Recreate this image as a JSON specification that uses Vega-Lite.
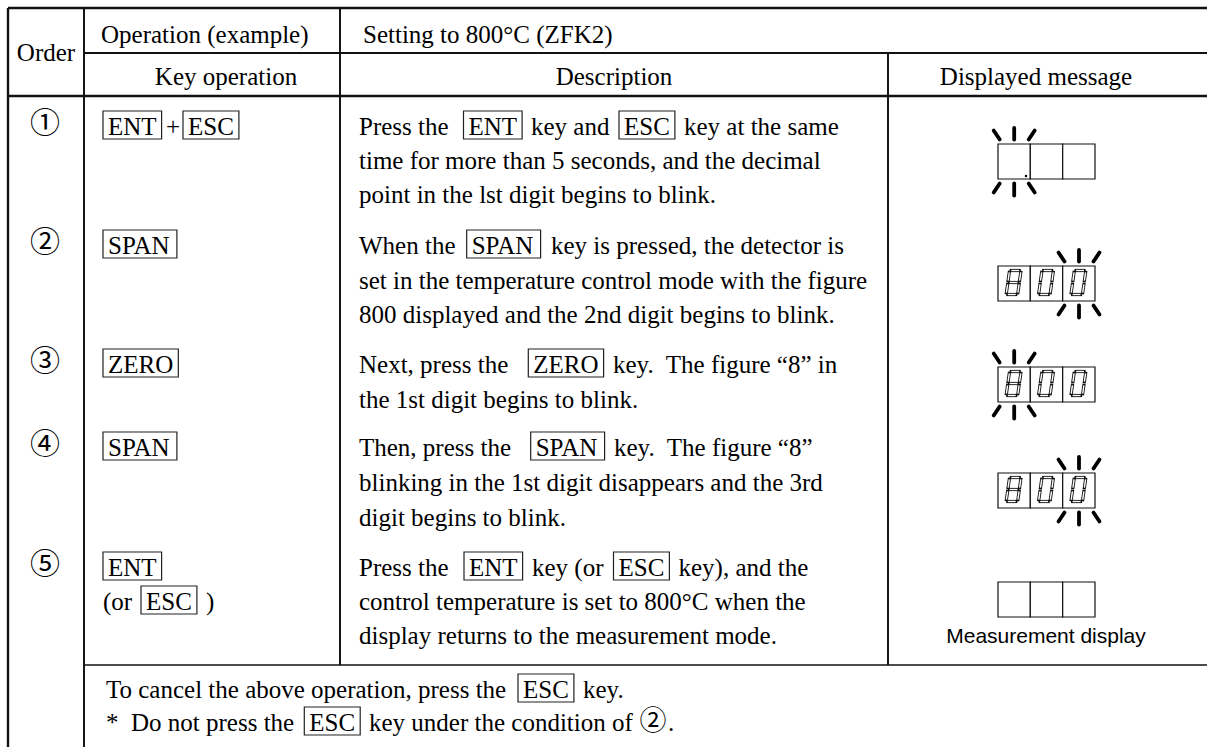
{
  "$schema": "https://vega.github.io/schema/vega-lite/v6.json",
  "width": 1207,
  "height": 747,
  "padding": 0,
  "autosize": {"type": "none"},
  "background": "white",
  "config": {"view": {"stroke": null}},
  "datasets": {
    "lines": [
      {"x": 8, "y": 8, "x2": 1207, "y2": 8, "w": "heavy"},
      {"x": 8, "y": 96, "x2": 1207, "y2": 96, "w": "heavy"},
      {"x": 8, "y": 8, "x2": 8, "y2": 747, "w": "heavy"},
      {"x": 84, "y": 8, "x2": 84, "y2": 747, "w": "medium"},
      {"x": 340, "y": 8, "x2": 340, "y2": 665, "w": "medium"},
      {"x": 888, "y": 53, "x2": 888, "y2": 665, "w": "medium"},
      {"x": 84, "y": 53, "x2": 1207, "y2": 53, "w": "medium"},
      {"x": 84, "y": 665, "x2": 1207, "y2": 665, "w": "light"}
    ],
    "texts": [
      {"kind": "body", "x": 101, "y": 43, "t": "Operation (example)"},
      {"kind": "body", "x": 363, "y": 43, "t": "Setting to 800°C (ZFK2)"},
      {"kind": "center", "x": 46, "y": 61, "t": "Order"},
      {"kind": "center", "x": 226, "y": 85, "t": "Key operation"},
      {"kind": "center", "x": 614, "y": 85, "t": "Description"},
      {"kind": "center", "x": 1036, "y": 85, "t": "Displayed message"},
      {"kind": "num", "x": 45, "y": 124, "t": "①"},
      {"kind": "num", "x": 45, "y": 243, "t": "②"},
      {"kind": "num", "x": 45, "y": 362, "t": "③"},
      {"kind": "num", "x": 45, "y": 445, "t": "④"},
      {"kind": "num", "x": 45, "y": 565, "t": "⑤"},
      {"kind": "body", "x": 166, "y": 135, "t": "+"},
      {"kind": "body", "x": 359, "y": 135, "t": "Press the"},
      {"kind": "body", "x": 531, "y": 135, "t": "key and"},
      {"kind": "body", "x": 684, "y": 135, "t": "key at the same"},
      {"kind": "body", "x": 359, "y": 169, "t": "time for more than 5 seconds, and the decimal"},
      {"kind": "body", "x": 359, "y": 203, "t": "point in the lst digit begins to blink."},
      {"kind": "body", "x": 359, "y": 254, "t": "When the"},
      {"kind": "body", "x": 551, "y": 254, "t": "key is pressed, the detector is"},
      {"kind": "body", "x": 359, "y": 289, "t": "set in the temperature control mode with the figure"},
      {"kind": "body", "x": 359, "y": 323, "t": "800 displayed and the 2nd digit begins to blink."},
      {"kind": "body", "x": 359, "y": 373, "t": "Next, press the"},
      {"kind": "body", "x": 613, "y": 373, "t": "key.\u00a0 The figure “8” in"},
      {"kind": "body", "x": 359, "y": 408, "t": "the 1st digit begins to blink."},
      {"kind": "body", "x": 359, "y": 456, "t": "Then, press the"},
      {"kind": "body", "x": 614, "y": 456, "t": "key.\u00a0 The figure “8”"},
      {"kind": "body", "x": 359, "y": 491, "t": "blinking in the 1st digit disappears and the 3rd"},
      {"kind": "body", "x": 359, "y": 526, "t": "digit begins to blink."},
      {"kind": "body", "x": 359, "y": 576, "t": "Press the"},
      {"kind": "body", "x": 532, "y": 576, "t": "key (or"},
      {"kind": "body", "x": 678.5, "y": 576, "t": "key), and the"},
      {"kind": "body", "x": 359, "y": 610, "t": "control temperature is set to 800°C when the"},
      {"kind": "body", "x": 359, "y": 644, "t": "display returns to the measurement mode."},
      {"kind": "body", "x": 103, "y": 610, "t": "(or"},
      {"kind": "body", "x": 206, "y": 610, "t": ")"},
      {"kind": "body", "x": 106, "y": 698, "t": "To cancel the above operation, press the"},
      {"kind": "body", "x": 583, "y": 698, "t": "key."},
      {"kind": "body", "x": 106, "y": 731, "t": "*\u00a0 Do not press the"},
      {"kind": "body", "x": 369, "y": 731, "t": "key under the condition of"},
      {"kind": "foot", "x": 653, "y": 722, "t": "②"},
      {"kind": "body", "x": 668, "y": 731, "t": "."},
      {"kind": "cap", "x": 1046, "y": 643, "t": "Measurement display"}
    ],
    "keys": [
      {"x": 103, "x2": 161.6, "y": 135, "t": "ENT"},
      {"x": 183, "x2": 238.9, "y": 135, "t": "ESC"},
      {"x": 463.5, "x2": 522.1, "y": 135, "t": "ENT"},
      {"x": 619, "x2": 674.9, "y": 135, "t": "ESC"},
      {"x": 103, "x2": 176.9, "y": 254, "t": "SPAN"},
      {"x": 466.7, "x2": 540.6, "y": 254, "t": "SPAN"},
      {"x": 103, "x2": 178.3, "y": 373, "t": "ZERO"},
      {"x": 528.3, "x2": 603.6, "y": 373, "t": "ZERO"},
      {"x": 103, "x2": 176.9, "y": 456, "t": "SPAN"},
      {"x": 530.7, "x2": 604.6, "y": 456, "t": "SPAN"},
      {"x": 103, "x2": 161.6, "y": 576, "t": "ENT"},
      {"x": 464, "x2": 522.6, "y": 576, "t": "ENT"},
      {"x": 613.5, "x2": 669.4, "y": 576, "t": "ESC"},
      {"x": 141, "x2": 196.9, "y": 610, "t": "ESC"},
      {"x": 518, "x2": 573.9, "y": 698, "t": "ESC"},
      {"x": 304.3, "x2": 360.2, "y": 731, "t": "ESC"}
    ],
    "cells": [
      {"x": 998, "x2": 1030.3, "y": 144, "y2": 179},
      {"x": 1030.3, "x2": 1062.7, "y": 144, "y2": 179},
      {"x": 1062.7, "x2": 1095, "y": 144, "y2": 179},
      {"x": 998, "x2": 1030.3, "y": 266, "y2": 301},
      {"x": 1030.3, "x2": 1062.7, "y": 266, "y2": 301},
      {"x": 1062.7, "x2": 1095, "y": 266, "y2": 301},
      {"x": 998, "x2": 1030.3, "y": 367, "y2": 402},
      {"x": 1030.3, "x2": 1062.7, "y": 367, "y2": 402},
      {"x": 1062.7, "x2": 1095, "y": 367, "y2": 402},
      {"x": 998, "x2": 1030.3, "y": 473, "y2": 508},
      {"x": 1030.3, "x2": 1062.7, "y": 473, "y2": 508},
      {"x": 1062.7, "x2": 1095, "y": 473, "y2": 508},
      {"x": 998, "x2": 1030.3, "y": 582, "y2": 617},
      {"x": 1030.3, "x2": 1062.7, "y": 582, "y2": 617},
      {"x": 1062.7, "x2": 1095, "y": 582, "y2": 617}
    ],
    "segs": [
      {"seg": "a", "x": 1011.3, "y": 270.5, "x2": 1019.2, "y2": 270.5},
      {"seg": "b", "x": 1020.8, "y": 272.3, "x2": 1019.6, "y2": 280.7},
      {"seg": "c", "x": 1019.1, "y": 284.3, "x2": 1017.9, "y2": 292.7},
      {"seg": "d", "x": 1007.8, "y": 294.5, "x2": 1015.7, "y2": 294.5},
      {"seg": "e", "x": 1007.6, "y": 284.3, "x2": 1006.4, "y2": 292.7},
      {"seg": "f", "x": 1009.3, "y": 272.3, "x2": 1008.1, "y2": 280.7},
      {"seg": "g", "x": 1009.6, "y": 282.5, "x2": 1017.5, "y2": 282.5},
      {"seg": "a", "x": 1043.7, "y": 270.5, "x2": 1051.6, "y2": 270.5},
      {"seg": "b", "x": 1053.2, "y": 272.3, "x2": 1052.0, "y2": 280.7},
      {"seg": "c", "x": 1051.5, "y": 284.3, "x2": 1050.3, "y2": 292.7},
      {"seg": "d", "x": 1040.2, "y": 294.5, "x2": 1048.1, "y2": 294.5},
      {"seg": "e", "x": 1040.0, "y": 284.3, "x2": 1038.8, "y2": 292.7},
      {"seg": "f", "x": 1041.7, "y": 272.3, "x2": 1040.5, "y2": 280.7},
      {"seg": "a", "x": 1076.1, "y": 270.5, "x2": 1084.0, "y2": 270.5},
      {"seg": "b", "x": 1085.6, "y": 272.3, "x2": 1084.4, "y2": 280.7},
      {"seg": "c", "x": 1083.9, "y": 284.3, "x2": 1082.7, "y2": 292.7},
      {"seg": "d", "x": 1072.6, "y": 294.5, "x2": 1080.5, "y2": 294.5},
      {"seg": "e", "x": 1072.4, "y": 284.3, "x2": 1071.2, "y2": 292.7},
      {"seg": "f", "x": 1074.1, "y": 272.3, "x2": 1072.9, "y2": 280.7},
      {"seg": "a", "x": 1011.3, "y": 371.5, "x2": 1019.2, "y2": 371.5},
      {"seg": "b", "x": 1020.8, "y": 373.3, "x2": 1019.6, "y2": 381.7},
      {"seg": "c", "x": 1019.1, "y": 385.3, "x2": 1017.9, "y2": 393.7},
      {"seg": "d", "x": 1007.8, "y": 395.5, "x2": 1015.7, "y2": 395.5},
      {"seg": "e", "x": 1007.6, "y": 385.3, "x2": 1006.4, "y2": 393.7},
      {"seg": "f", "x": 1009.3, "y": 373.3, "x2": 1008.1, "y2": 381.7},
      {"seg": "g", "x": 1009.6, "y": 383.5, "x2": 1017.5, "y2": 383.5},
      {"seg": "a", "x": 1043.7, "y": 371.5, "x2": 1051.6, "y2": 371.5},
      {"seg": "b", "x": 1053.2, "y": 373.3, "x2": 1052.0, "y2": 381.7},
      {"seg": "c", "x": 1051.5, "y": 385.3, "x2": 1050.3, "y2": 393.7},
      {"seg": "d", "x": 1040.2, "y": 395.5, "x2": 1048.1, "y2": 395.5},
      {"seg": "e", "x": 1040.0, "y": 385.3, "x2": 1038.8, "y2": 393.7},
      {"seg": "f", "x": 1041.7, "y": 373.3, "x2": 1040.5, "y2": 381.7},
      {"seg": "a", "x": 1076.1, "y": 371.5, "x2": 1084.0, "y2": 371.5},
      {"seg": "b", "x": 1085.6, "y": 373.3, "x2": 1084.4, "y2": 381.7},
      {"seg": "c", "x": 1083.9, "y": 385.3, "x2": 1082.7, "y2": 393.7},
      {"seg": "d", "x": 1072.6, "y": 395.5, "x2": 1080.5, "y2": 395.5},
      {"seg": "e", "x": 1072.4, "y": 385.3, "x2": 1071.2, "y2": 393.7},
      {"seg": "f", "x": 1074.1, "y": 373.3, "x2": 1072.9, "y2": 381.7},
      {"seg": "a", "x": 1011.3, "y": 477.5, "x2": 1019.2, "y2": 477.5},
      {"seg": "b", "x": 1020.8, "y": 479.3, "x2": 1019.6, "y2": 487.7},
      {"seg": "c", "x": 1019.1, "y": 491.3, "x2": 1017.9, "y2": 499.7},
      {"seg": "d", "x": 1007.8, "y": 501.5, "x2": 1015.7, "y2": 501.5},
      {"seg": "e", "x": 1007.6, "y": 491.3, "x2": 1006.4, "y2": 499.7},
      {"seg": "f", "x": 1009.3, "y": 479.3, "x2": 1008.1, "y2": 487.7},
      {"seg": "g", "x": 1009.6, "y": 489.5, "x2": 1017.5, "y2": 489.5},
      {"seg": "a", "x": 1043.7, "y": 477.5, "x2": 1051.6, "y2": 477.5},
      {"seg": "b", "x": 1053.2, "y": 479.3, "x2": 1052.0, "y2": 487.7},
      {"seg": "c", "x": 1051.5, "y": 491.3, "x2": 1050.3, "y2": 499.7},
      {"seg": "d", "x": 1040.2, "y": 501.5, "x2": 1048.1, "y2": 501.5},
      {"seg": "e", "x": 1040.0, "y": 491.3, "x2": 1038.8, "y2": 499.7},
      {"seg": "f", "x": 1041.7, "y": 479.3, "x2": 1040.5, "y2": 487.7},
      {"seg": "a", "x": 1076.1, "y": 477.5, "x2": 1084.0, "y2": 477.5},
      {"seg": "b", "x": 1085.6, "y": 479.3, "x2": 1084.4, "y2": 487.7},
      {"seg": "c", "x": 1083.9, "y": 491.3, "x2": 1082.7, "y2": 499.7},
      {"seg": "d", "x": 1072.6, "y": 501.5, "x2": 1080.5, "y2": 501.5},
      {"seg": "e", "x": 1072.4, "y": 491.3, "x2": 1071.2, "y2": 499.7},
      {"seg": "f", "x": 1074.1, "y": 479.3, "x2": 1072.9, "y2": 487.7}
    ],
    "blinks": [
      {"x": 1014.2, "y": 128, "x2": 1014.2, "y2": 139.5},
      {"x": 993.7, "y": 130.5, "x2": 999.7, "y2": 139.5},
      {"x": 1034.7, "y": 130.5, "x2": 1028.7, "y2": 139.5},
      {"x": 1014.2, "y": 183.5, "x2": 1014.2, "y2": 195.5},
      {"x": 999.7, "y": 183.5, "x2": 993.7, "y2": 192.5},
      {"x": 1028.7, "y": 183.5, "x2": 1034.7, "y2": 192.5},
      {"x": 1079, "y": 250, "x2": 1079, "y2": 261.5},
      {"x": 1058.5, "y": 252.5, "x2": 1064.5, "y2": 261.5},
      {"x": 1099.5, "y": 252.5, "x2": 1093.5, "y2": 261.5},
      {"x": 1079, "y": 305.5, "x2": 1079, "y2": 317.5},
      {"x": 1064.5, "y": 305.5, "x2": 1058.5, "y2": 314.5},
      {"x": 1093.5, "y": 305.5, "x2": 1099.5, "y2": 314.5},
      {"x": 1014.2, "y": 351, "x2": 1014.2, "y2": 362.5},
      {"x": 993.7, "y": 353.5, "x2": 999.7, "y2": 362.5},
      {"x": 1034.7, "y": 353.5, "x2": 1028.7, "y2": 362.5},
      {"x": 1014.2, "y": 406.5, "x2": 1014.2, "y2": 418.5},
      {"x": 999.7, "y": 406.5, "x2": 993.7, "y2": 415.5},
      {"x": 1028.7, "y": 406.5, "x2": 1034.7, "y2": 415.5},
      {"x": 1079, "y": 457, "x2": 1079, "y2": 468.5},
      {"x": 1058.5, "y": 459.5, "x2": 1064.5, "y2": 468.5},
      {"x": 1099.5, "y": 459.5, "x2": 1093.5, "y2": 468.5},
      {"x": 1079, "y": 512.5, "x2": 1079, "y2": 524.5},
      {"x": 1064.5, "y": 512.5, "x2": 1058.5, "y2": 521.5},
      {"x": 1093.5, "y": 512.5, "x2": 1099.5, "y2": 521.5}
    ],
    "dots": [{"x": 1026, "y": 176}]
  },
  "encoding": {
    "x": {"field": "x", "type": "quantitative", "scale": {"domain": [0, 1207], "nice": false, "zero": false}, "axis": null},
    "y": {"field": "y", "type": "quantitative", "scale": {"domain": [0, 747], "nice": false, "zero": false, "reverse": true}, "axis": null}
  },
  "layer": [
    {
      "data": {"name": "lines"},
      "mark": {"type": "rule", "color": "#111"},
      "encoding": {
        "x2": {"field": "x2"},
        "y2": {"field": "y2"},
        "strokeWidth": {"field": "w", "type": "nominal", "scale": {"domain": ["heavy", "medium", "light"], "range": [2.4, 1.5, 1.2]}, "legend": null}
      }
    },
    {
      "data": {"name": "cells"},
      "mark": {"type": "rect", "fill": "white", "stroke": "#111", "strokeWidth": 1.2},
      "encoding": {"x2": {"field": "x2"}, "y2": {"field": "y2"}}
    },
    {
      "data": {"name": "segs"},
      "mark": {"type": "rule", "color": "#111", "strokeWidth": 3.2, "strokeCap": "square"},
      "encoding": {"x2": {"field": "x2"}, "y2": {"field": "y2"}}
    },
    {
      "data": {"name": "segs"},
      "mark": {"type": "rule", "color": "white", "strokeWidth": 1.4, "strokeCap": "butt"},
      "encoding": {"x2": {"field": "x2"}, "y2": {"field": "y2"}}
    },
    {
      "data": {"name": "blinks"},
      "mark": {"type": "rule", "color": "#000", "strokeWidth": 3.8, "strokeCap": "round"},
      "encoding": {"x2": {"field": "x2"}, "y2": {"field": "y2"}}
    },
    {
      "data": {"name": "dots"},
      "mark": {"type": "point", "filled": true, "color": "#000", "size": 6, "opacity": 1},
      "encoding": {}
    },
    {
      "data": {"name": "keys"},
      "mark": {"type": "rect", "fill": "white", "fillOpacity": 0, "stroke": "#222", "strokeWidth": 1.2, "yOffset": -24, "y2Offset": 4},
      "encoding": {"x2": {"field": "x2"}, "y2": {"field": "y"}}
    },
    {
      "data": {"name": "keys"},
      "mark": {"type": "text", "align": "left", "baseline": "alphabetic", "dx": 5, "font": "Liberation Serif", "fontSize": 25, "color": "#000"},
      "encoding": {"text": {"field": "t"}}
    },
    {
      "data": {"name": "texts"},
      "transform": [{"filter": "datum.kind === 'body'"}],
      "mark": {"type": "text", "align": "left", "baseline": "alphabetic", "font": "Liberation Serif", "fontSize": 25, "color": "#000"},
      "encoding": {"text": {"field": "t"}}
    },
    {
      "data": {"name": "texts"},
      "transform": [{"filter": "datum.kind === 'center'"}],
      "mark": {"type": "text", "align": "center", "baseline": "alphabetic", "font": "Liberation Serif", "fontSize": 25, "color": "#000"},
      "encoding": {"text": {"field": "t"}}
    },
    {
      "data": {"name": "texts"},
      "transform": [{"filter": "datum.kind === 'num'"}],
      "mark": {"type": "text", "align": "center", "baseline": "middle", "font": "Noto Sans CJK JP", "fontSize": 30, "color": "#000"},
      "encoding": {"text": {"field": "t"}}
    },
    {
      "data": {"name": "texts"},
      "transform": [{"filter": "datum.kind === 'foot'"}],
      "mark": {"type": "text", "align": "center", "baseline": "middle", "font": "Noto Sans CJK JP", "fontSize": 27, "color": "#000"},
      "encoding": {"text": {"field": "t"}}
    },
    {
      "data": {"name": "texts"},
      "transform": [{"filter": "datum.kind === 'cap'"}],
      "mark": {"type": "text", "align": "center", "baseline": "alphabetic", "font": "Liberation Sans", "fontSize": 21, "color": "#000"},
      "encoding": {"text": {"field": "t"}}
    }
  ]
}
